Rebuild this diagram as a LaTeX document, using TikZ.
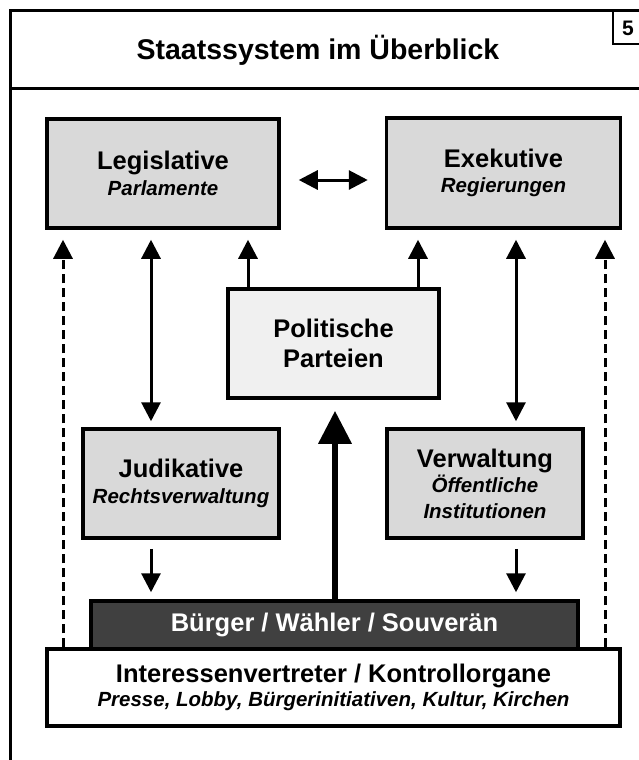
\documentclass[tikz,border=0pt]{standalone}
\usepackage{fontspec}
\setmainfont{Liberation Sans}
\usetikzlibrary{arrows.meta,calc}
\definecolor{boxgray}{RGB}{217,217,217}
\definecolor{paleboxgray}{RGB}{240,240,240}
\definecolor{darkbar}{RGB}{64,64,64}
\newcommand\fsz[1]{\fontsize{#1}{#1}\selectfont}
\newcommand\subfont{\fsz{20.5}\itshape}
\begin{document}
\begin{tikzpicture}[x=1pt,y=-1pt,
  frameline/.style={line width=3pt,black},
  thinframe/.style={line width=2.2pt,black},
  box/.style={draw=black,line width=3.5pt,rectangle,align=center,inner sep=0pt,
    font=\fsz{25.5}\bfseries},
  arr/.style={line width=3pt,-{Triangle[length=19pt,width=19pt]}},
  dbl/.style={line width=3pt,{Triangle[length=19pt,width=19pt]}-{Triangle[length=19pt,width=19pt]}},
  dsh/.style={line width=3pt,dash pattern=on 9pt off 5pt,-{Triangle[length=19pt,width=19pt]}},
  bigarr/.style={line width=6.5pt,-{Triangle[length=33pt,width=32pt]}}]
\useasboundingbox (0,0) rectangle (639,760);
\fill[white] (0,0) rectangle (639,760);
% frame
\draw[frameline] (660,11) -- (10,11) -- (10,780);
\draw[frameline] (10,88) -- (660,88);
\draw[thinframe] (660,44) -- (613,44) -- (613,11);
\node (ttl) at (318,50) {\fsz{28.5}\bfseries Staatssystem im Überblick};
\node (num) at (628,28) {\fsz{21}\bfseries 5};
% boxes
\node[box,fill=boxgray,minimum width=232pt,minimum height=109pt] (leg) at (163,173.5)
  {Legislative\\[0pt]{\subfont Parlamente}};
\node[box,fill=boxgray,minimum width=234pt,minimum height=110pt] (exe) at (503.5,173)
  {Exekutive\\[0pt]{\subfont Regierungen}};
\node[box,fill=paleboxgray,minimum width=211pt,minimum height=109pt] (par) at (333.5,343.5)
  {Politische\\[4pt]Parteien};
\node[box,fill=boxgray,minimum width=196pt,minimum height=109pt] (jud) at (181,483.5)
  {Judikative\\[0pt]{\subfont Rechtsverwaltung}};
\node[box,fill=boxgray,minimum width=196pt,minimum height=109pt] (ver) at (485,483.5)
  {Verwaltung\\[0pt]{\subfont Öffentliche}\\[0pt]{\subfont Institutionen}};
\node[box,fill=darkbar,text=white,minimum width=487pt,minimum height=48pt] (bur) at (334.5,625)
  {Bürger / Wähler / Souverän};
\node[box,fill=white,minimum width=573pt,minimum height=77pt] (int) at (333.5,687.5)
  {Interessenvertreter / Kontrollorgane\\[-1pt]{\subfont Presse, Lobby, Bürgerinitiativen, Kultur, Kirchen}};
% column coordinates
\coordinate (cA) at (63,0);
\coordinate (cB) at (151,0);
\coordinate (cC) at (248,0);
\coordinate (cD) at (418,0);
\coordinate (cE) at (516,0);
\coordinate (cF) at (605,0);
\coordinate (cM) at (335,0);
% connectors
\draw[dbl] ([xshift=18pt,yshift=-6.5pt]leg.east) -- ([xshift=-17pt,yshift=-7pt]exe.west);
\draw[dsh] (int.north -| cA) -- ([yshift=-10pt]leg.south -| cA);
\draw[dsh] (int.north -| cF) -- ([yshift=-10pt]exe.south -| cF);
\draw[dbl] ([yshift=-10pt]leg.south -| cB) -- ([yshift=6pt]jud.north -| cB);
\draw[dbl] ([yshift=-10pt]exe.south -| cE) -- ([yshift=6pt]ver.north -| cE);
\draw[arr] (par.north -| cC) -- ([yshift=-10pt]leg.south -| cC);
\draw[arr] (par.north -| cD) -- ([yshift=-10pt]exe.south -| cD);
\draw[arr] ([yshift=-9pt]jud.south -| cB) -- ([yshift=7pt]bur.north -| cB);
\draw[arr] ([yshift=-9pt]ver.south -| cE) -- ([yshift=7pt]bur.north -| cE);
\draw[bigarr] (bur.north -| cM) -- ([yshift=-11pt]par.south -| cM);
\end{tikzpicture}
\end{document}
